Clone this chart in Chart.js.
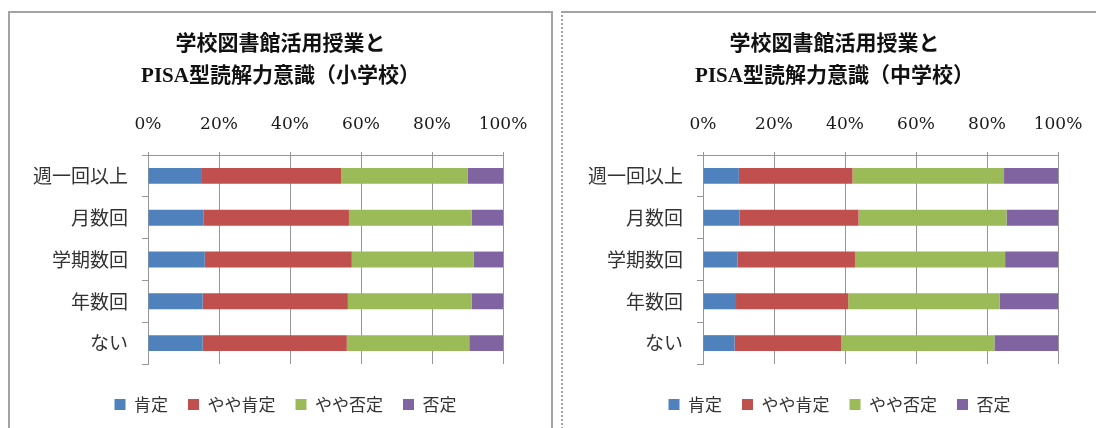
<!DOCTYPE html>
<html><head><meta charset="utf-8">
<script src="https://cdn.jsdelivr.net/npm/chart.js@4"></script>
<style>
html,body{margin:0;padding:0;background:#fff;width:1096px;height:428px;overflow:hidden;}
#boxL{position:absolute;left:8px;top:11px;width:541px;height:440px;border:2px solid #a3a3a3;box-sizing:content-box;}
#boxR{position:absolute;left:561px;top:11px;width:560px;height:440px;border-top:2px solid #a3a3a3;border-left:2px dotted #a3a3a3;}
#wL{position:absolute;left:10px;top:13px;width:541px;height:415px;}
#wR{position:absolute;left:563px;top:13px;width:543px;height:415px;}
</style></head><body>
<div id="boxL"></div><div id="boxR"></div>
<div id="wL"><canvas id="cL"></canvas></div>
<div id="wR"><canvas id="cR"></canvas></div>
<script>
const categories = ['週一回以上','月数回','学期数回','年数回','ない'];
const seriesNames = ['肯定','やや肯定','やや否定','否定'];
const seriesColors = ['#4F81BD','#C0504D','#9BBB59','#8064A2'];
const xTickValues = [0,20,40,60,80,100];

const titleLeft = ['学校図書館活用授業と','PISA型読解力意識（小学校）'];
const titleRight = ['学校図書館活用授業と','PISA型読解力意識（中学校）'];

// 小学校
const elemPositive     = [15.2,15.7,16.0,15.4,15.4];
const elemSomewhatPos  = [39.2,40.9,41.4,40.9,40.6];
const elemSomewhatNeg  = [35.6,34.6,34.4,34.9,34.5];
const elemNegative     = [10.0, 8.8, 8.2, 8.8, 9.5];
// 中学校
const juniorPositive    = [10.1,10.3, 9.7, 9.3, 8.9];
const juniorSomewhatPos = [32.0,33.5,33.1,31.6,30.1];
const juniorSomewhatNeg = [42.7,41.7,42.3,42.7,43.1];
const juniorNegative    = [15.2,14.5,14.9,16.4,17.9];

const SANS = '"Noto Sans CJK JP", "Noto Sans", sans-serif';
const SERIF = '"Liberation Serif", "Noto Sans CJK JP", serif';
const TICKSERIF = '"DejaVu Serif", "Liberation Serif", serif';

const legendShift = {
  id:'legendShift',
  afterLayout(chart){
    const l = chart.legend;
    if(l){ l.top += 12; l.bottom += 12; l.left += 5; l.right += 5; }
  }
};

function build(id, title, series, yWidth){
  const datasets = series.map((d,i)=>({
    label: seriesNames[i], data: d, backgroundColor: seriesColors[i],
    borderWidth: 0, barPercentage: 0.38, categoryPercentage: 1.0
  }));
  return new Chart(document.getElementById(id), {
    type:'bar',
    data:{labels:categories, datasets},
    plugins:[legendShift],
    options:{
      indexAxis:'y', responsive:true, maintainAspectRatio:false, animation:false,
      layout:{padding:{left:0,right:0,top:0,bottom:17}},
      plugins:{
        title:{display:true, text:title, color:'#111',
          font:{family:SERIF, size:21, weight:'bold', lineHeight:1.524},
          padding:{top:16,bottom:0}},
        legend:{position:'bottom', labels:{boxWidth:11, boxHeight:11, padding:20,
          color:'#333', font:{family:SANS, size:17}}},
        tooltip:{enabled:false}
      },
      scales:{
        x:{position:'top', stacked:true, min:0, max:100,
          afterBuildTicks(s){ s.ticks = xTickValues.map(v=>({value:v})); },
          afterFit(s){ s.height = 62; },
          ticks:{callback:v=>v+'%', color:'#1a1a1a', padding:17, maxRotation:0,
            font:{family:TICKSERIF, size:17}},
          grid:{color:'#969696', lineWidth:1, tickLength:3},
          border:{display:true, color:'#969696'}},
        y:{stacked:true,
          afterFit(s){ s.width = yWidth; },
          ticks:{color:'#333', padding:14, font:{family:SANS, size:19}},
          grid:{drawOnChartArea:false, drawTicks:true, tickLength:6, color:'#969696', offset:true},
          border:{display:true, color:'#969696'}},
        yPad:{type:'category', position:'right', display:true,
          afterFit(s){ s.width = 48; },
          ticks:{display:false}, grid:{display:false}, border:{display:false}}
      }
    }
  });
}

build('cL', titleLeft, [elemPositive, elemSomewhatPos, elemSomewhatNeg, elemNegative], 138);
build('cR', titleRight, [juniorPositive, juniorSomewhatPos, juniorSomewhatNeg, juniorNegative], 140);
</script>
</body></html>
